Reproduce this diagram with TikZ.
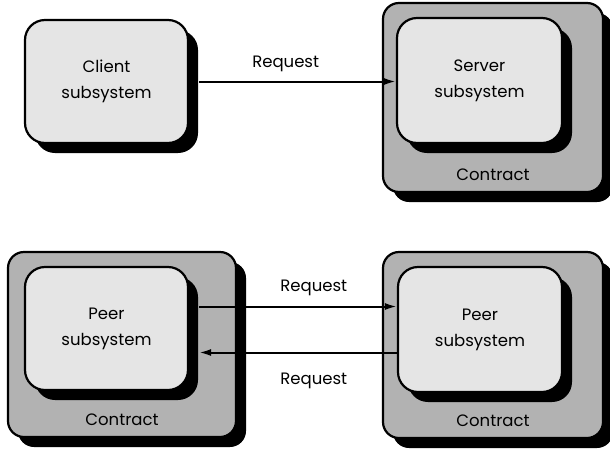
\documentclass[tikz,border=0pt]{standalone}
\usepackage{fontspec}
\setmainfont{Poppins}
\usetikzlibrary{arrows.meta,positioning,shadows}

\begin{document}
\begin{tikzpicture}[
    x=1pt, y=1pt,
    solidshadow/.style={drop shadow={shadow xshift=10pt, shadow yshift=-10pt, fill=black, opacity=1}},
    contract/.style={rectangle, draw, line width=2.2pt, rounded corners=16pt, minimum width=220pt, minimum height=187pt, fill=gray!60, solidshadow},
    subsys/.style={rectangle, draw, line width=2.2pt, rounded corners=20pt, minimum width=163pt, minimum height=123pt, align=center, font=\fontsize{16.5}{26}\selectfont, fill=gray!20, solidshadow},
    tag/.style={font=\fontsize{16.5}{26}\selectfont, inner sep=0pt},
    msg/.style={font=\fontsize{16.5}{20}\selectfont},
    arrow/.style={-{Latex[length=12pt, width=7pt]}, line width=2pt}
]
\useasboundingbox (0,0) rectangle (610,-448);

% client / server
\node[subsys] (client) at (106.5,-81.5) {Client\\subsystem};
\node[contract, minimum height=189pt] (srvctr) at (493,-97.5) {};
\node[tag, above=12pt of srvctr.south] (srvtag) {Contract};
\node[subsys, minimum width=165pt, minimum height=125pt] (server) at (479.5,-80.5) {Server\\subsystem};

\draw[arrow] ([xshift=10pt]client.east) -- (client.east -| server.west) node[msg, pos=0.44, above=5pt] {Request};

% peer / peer
\node[contract, minimum width=228pt, minimum height=185pt] (lctr) at (122,-344.5) {};
\node[tag, above=12pt of lctr.south] (ltag) {Contract};
\node[subsys] (lpeer) at (106.5,-328.5) {Peer\\subsystem};

\node[contract, minimum height=186pt] (rctr) at (493,-345) {};
\node[tag, above=12pt of rctr.south] (rtag) {Contract};
\node[subsys, minimum width=164pt, minimum height=125pt] (rpeer) at (480,-329.5) {Peer\\subsystem};

\draw[arrow] ([shift={(10pt,22pt)}]lpeer.east) -- ([yshift=22pt]lpeer.east -| rpeer.west) node[msg, pos=0.58, above=6pt] {Request};
\draw[arrow] ([yshift=-24pt]lpeer.east -| rpeer.west) -- ([shift={(10pt,-24pt)}]lpeer.east) node[msg, pos=0.42, below=16pt] {Request};
\end{tikzpicture}
\end{document}
